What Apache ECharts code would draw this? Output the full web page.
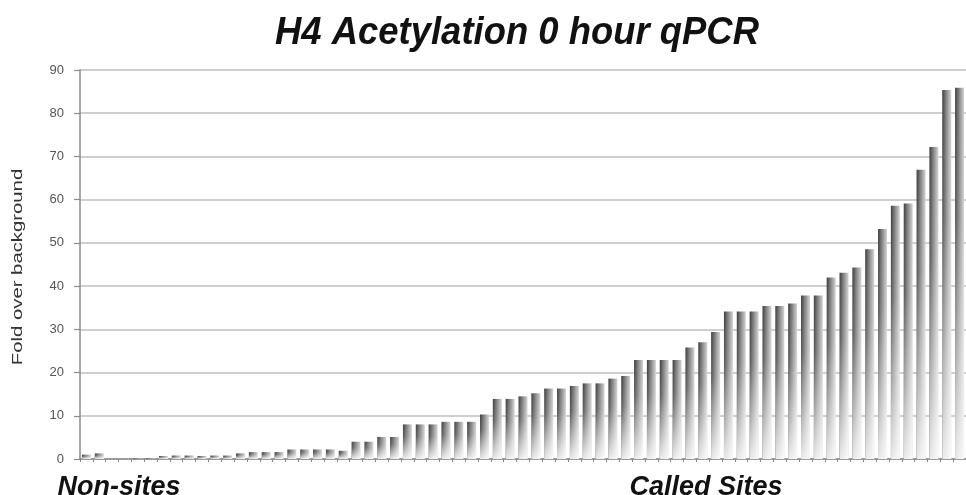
<!DOCTYPE html>
<html>
<head>
<meta charset="utf-8">
<script src="https://cdn.jsdelivr.net/npm/echarts@6/dist/echarts.min.js"></script>
<style>html,body{margin:0;padding:0;background:#fff}#c{width:966px;height:495px}</style>
</head>
<body>
<div id="c"></div>
<script>
// ---- data ----
var titleText = 'H4 Acetylation 0 hour qPCR';
var yAxisName = 'Fold over background';
var groupLabels = ['Non-sites', 'Called Sites'];
var yTicks = [0, 10, 20, 30, 40, 50, 60, 70, 80, 90];
var nonSiteValues = [1.0, 1.3];
var gapSlots = 2;
var calledSiteValues = [
  0.15, 0.15, 0.7, 0.8, 0.8, 0.7, 0.8, 0.8, 1.3, 1.6, 1.6, 1.6,
  2.2, 2.2, 2.2, 2.2, 1.9, 4.0, 4.0, 5.1, 5.1,
  8.0, 8.0, 8.0, 8.6, 8.6, 8.6, 10.3, 13.9, 13.9, 14.5, 15.2,
  16.3, 16.3, 16.9, 17.5, 17.5, 18.6, 19.2, 22.9, 22.9, 22.9, 22.9,
  25.8, 27.0, 29.4, 34.1, 34.1, 34.1, 35.4, 35.4, 36.0, 37.8, 37.8,
  42.0, 43.1, 44.3, 48.5, 53.2, 58.6, 59.1, 66.9, 72.2, 85.4, 85.9
];

// ---- build category axis / series from the arrays ----
var categories = [];
var values = [];
nonSiteValues.forEach(function (v, i) { categories.push('N' + (i + 1)); values.push(v); });
for (var g = 0; g < gapSlots; g++) { categories.push('gap' + (g + 1)); values.push('-'); }
calledSiteValues.forEach(function (v, i) { categories.push('S' + (i + 1)); values.push(v); });

var chart = echarts.init(document.getElementById('c'), null, { renderer: 'canvas' });
var FONT = "'Liberation Sans', Arial, sans-serif";

var option = {
  animation: false,
  backgroundColor: '#ffffff',
  grid: { left: 80, right: 0, top: 70, bottom: 36, containLabel: false },
  xAxis: {
    type: 'category',
    data: categories,
    boundaryGap: true,
    axisLine: { show: true, lineStyle: { color: '#8a8a8a', width: 1.5 } },
    axisTick: { show: true, interval: 0, length: 3, lineStyle: { color: '#888' } },
    axisLabel: { show: false },
    splitLine: { show: false }
  },
  yAxis: {
    type: 'value',
    min: yTicks[0],
    max: yTicks[yTicks.length - 1],
    interval: 10,
    axisLine: { show: true, lineStyle: { color: '#8a8a8a', width: 1.5 } },
    axisTick: { show: true, length: 6, lineStyle: { color: '#8a8a8a', width: 1.2 } },
    axisLabel: { color: '#555', fontSize: 13, fontFamily: FONT, margin: 16 },
    splitLine: { show: true, lineStyle: { color: '#cfcfcf', width: 2 } }
  },
  series: [
    {
      type: 'bar',
      data: values,
      barCategoryGap: '30%',
      barGap: '-100%',
      itemStyle: {
        color: new echarts.graphic.LinearGradient(0, 0, 1, 0, [
          { offset: 0, color: '#3c3c3c' },
          { offset: 0.3, color: '#6e6e6e' },
          { offset: 0.75, color: '#b0b0b0' },
          { offset: 1, color: '#d4d4d4' }
        ])
      },
      silent: true
    },
    {
      type: 'bar',
      data: values,
      barCategoryGap: '30%',
      barGap: '-100%',
      itemStyle: {
        color: new echarts.graphic.LinearGradient(0, 0, 0, 1, [
          { offset: 0, color: 'rgba(255,255,255,0)' },
          { offset: 0.35, color: 'rgba(255,255,255,0.12)' },
          { offset: 1, color: 'rgba(255,255,255,0.88)' }
        ])
      },
      silent: true
    }
  ],
  graphic: [
    {
      type: 'text', x: 517, y: 33, scaleX: 0.985, scaleY: 1.05,
      style: {
        text: titleText, fill: '#111', align: 'center', verticalAlign: 'middle',
        font: "italic bold 37px " + FONT,
        shadowColor: 'rgba(0,0,0,0.35)', shadowBlur: 2
      }
    },
    {
      type: 'text', x: 18, y: 267, rotation: Math.PI / 2, scaleX: 1.45, scaleY: 1,
      style: {
        text: yAxisName, fill: '#333', align: 'center', verticalAlign: 'middle',
        font: "14px " + FONT
      }
    },
    {
      type: 'text', x: 119, y: 488,
      style: {
        text: groupLabels[0], fill: '#111', align: 'center', verticalAlign: 'middle',
        font: "italic bold 27px " + FONT
      }
    },
    {
      type: 'text', x: 706, y: 488,
      style: {
        text: groupLabels[1], fill: '#111', align: 'center', verticalAlign: 'middle',
        font: "italic bold 27px " + FONT
      }
    }
  ]
};
chart.setOption(option);
</script>
</body>
</html>
